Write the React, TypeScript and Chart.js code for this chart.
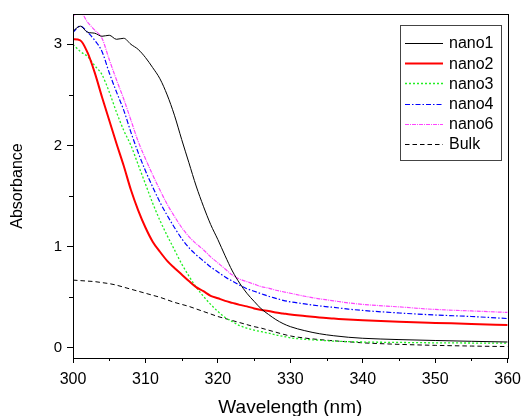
import React, { useEffect, useRef } from "react";
import { Chart, registerables } from "chart.js";

Chart.register(...registerables);

const wavelength = [
  300, 301, 302, 303, 304, 305, 306, 307, 308, 309, 310, 311, 312, 313, 314, 315, 316, 317, 318, 319,
  320, 321, 322, 323, 324, 325, 326, 327, 328, 329, 330, 332, 334, 336, 338, 340, 345, 350, 355, 360,
];

const nano1 = [
  3.13, 3.18, 3.12, 3.11, 3.08, 3.09, 3.05, 3.06, 3.0, 2.95, 2.87, 2.77, 2.66, 2.5, 2.3, 2.06, 1.83, 1.6, 1.4, 1.22,
  1.07, 0.91, 0.76, 0.64, 0.54, 0.46, 0.385, 0.33, 0.28, 0.24, 0.21, 0.17, 0.14, 0.12, 0.105, 0.095, 0.082, 0.073, 0.065, 0.058,
];
const nano2 = [
  3.05, 3.04, 2.92, 2.72, 2.48, 2.25, 2.02, 1.8, 1.56, 1.36, 1.19, 1.05, 0.95, 0.86, 0.79, 0.725, 0.66, 0.6, 0.56, 0.515,
  0.49, 0.465, 0.445, 0.425, 0.41, 0.39, 0.375, 0.365, 0.35, 0.34, 0.33, 0.315, 0.3, 0.29, 0.28, 0.272, 0.258, 0.247, 0.237, 0.225,
];
const nano3 = [
  3.0, 2.93, 2.88, 2.79, 2.7, 2.53, 2.33, 2.15, 2.0, 1.81, 1.62, 1.43, 1.26, 1.11, 0.97, 0.83, 0.71, 0.6, 0.51, 0.43,
  0.36, 0.3, 0.26, 0.22, 0.195, 0.175, 0.16, 0.145, 0.128, 0.115, 0.1, 0.085, 0.075, 0.067, 0.062, 0.058, 0.054, 0.05, 0.048, 0.046,
];
const nano4 = [
  3.12, 3.18, 3.12, 3.04, 2.93, 2.72, 2.53, 2.35, 2.13, 1.93, 1.75, 1.59, 1.44, 1.31, 1.19, 1.08, 0.99, 0.92, 0.86, 0.8,
  0.75, 0.7, 0.66, 0.62, 0.585, 0.56, 0.535, 0.51, 0.49, 0.47, 0.455, 0.435, 0.415, 0.4, 0.383, 0.37, 0.345, 0.325, 0.31, 0.29,
];
const nano6 = [
  3.28, 3.32, 3.22, 3.14, 3.06, 2.85, 2.65, 2.46, 2.25, 2.04, 1.87, 1.71, 1.56, 1.42, 1.3, 1.19, 1.1, 1.03, 0.97, 0.9,
  0.84, 0.78, 0.72, 0.68, 0.655, 0.63, 0.605, 0.59, 0.57, 0.555, 0.54, 0.51, 0.485, 0.465, 0.445, 0.43, 0.405, 0.38, 0.365, 0.35,
];
const bulk = [
  0.67, 0.665, 0.66, 0.655, 0.645, 0.635, 0.62, 0.6, 0.58, 0.56, 0.54, 0.52, 0.5, 0.475, 0.45, 0.43, 0.41, 0.385, 0.36, 0.335,
  0.31, 0.29, 0.27, 0.25, 0.23, 0.21, 0.195, 0.175, 0.155, 0.135, 0.118, 0.097, 0.082, 0.07, 0.06, 0.05, 0.035, 0.025, 0.018, 0.013,
];

const seriesNames = ["nano1", "nano2", "nano3", "nano4", "nano6", "Bulk"];
const seriesValues = [nano1, nano2, nano3, nano4, nano6, bulk];

const xMajorTicks = [300, 310, 320, 330, 340, 350, 360];
const xMinorTicks = [305, 315, 325, 335, 345, 355];
const yMajorTicks = [0, 1, 2, 3];
const yMinorTicks = [0.5, 1.5, 2.5];

const styles = [
  { color: "#000000", width: 1, dash: [] as number[] },
  { color: "#ff0000", width: 2, dash: [] as number[] },
  { color: "#22ee22", width: 1.3, dash: [2, 2] },
  { color: "#0000ff", width: 1.2, dash: [5, 2, 1.5, 2] },
  { color: "#ff44ff", width: 1.2, dash: [4, 1, 1, 1] },
  { color: "#000000", width: 1, dash: [4.5, 3] },
];

const FONT = "'Liberation Sans', Arial, Helvetica, sans-serif";

export default function App() {
  const ref = useRef<HTMLCanvasElement | null>(null);

  useEffect(() => {
    document.body.style.margin = "0";
    const canvas = ref.current;
    if (!canvas) return;

    const framePlugin = {
      id: "frameAndMinor",
      afterDraw(chart: any) {
        const { ctx, chartArea } = chart;
        const xs = chart.scales.x;
        const ys = chart.scales.y;
        ctx.save();
        ctx.strokeStyle = "#000";
        ctx.lineWidth = 1;
        ctx.setLineDash([]);
        ctx.strokeRect(
          Math.round(chartArea.left) + 0.5,
          Math.round(chartArea.top) + 0.5,
          Math.round(chartArea.right - chartArea.left),
          Math.round(chartArea.bottom - chartArea.top)
        );
        ctx.beginPath();
        for (const v of xMinorTicks) {
          const px = Math.round(xs.getPixelForValue(v)) + 0.5;
          ctx.moveTo(px, chartArea.bottom);
          ctx.lineTo(px, chartArea.bottom + 3);
        }
        for (const v of yMinorTicks) {
          const py = Math.round(ys.getPixelForValue(v)) + 0.5;
          ctx.moveTo(chartArea.left, py);
          ctx.lineTo(chartArea.left - 4, py);
        }
        ctx.stroke();

        // legend
        const lx = 400.5;
        const ly = 25.5;
        const lw = 101;
        const lh = 135;
        ctx.fillStyle = "#fff";
        ctx.fillRect(lx, ly, lw, lh);
        ctx.strokeStyle = "#444";
        ctx.strokeRect(lx, ly, lw, lh);
        ctx.font = `16px ${FONT}`;
        ctx.textBaseline = "middle";
        ctx.textAlign = "left";
        seriesNames.forEach((name, i) => {
          const y = 43 + i * 20.2;
          const st = styles[i];
          ctx.beginPath();
          ctx.strokeStyle = st.color;
          ctx.lineWidth = st.width;
          ctx.setLineDash(st.dash);
          ctx.moveTo(405, Math.round(y) + 0.5);
          ctx.lineTo(443, Math.round(y) + 0.5);
          ctx.stroke();
          ctx.setLineDash([]);
          ctx.fillStyle = "#000";
          ctx.fillText(name, 449, y + 1);
        });
        ctx.restore();
      },
    };

    const chart = new Chart(canvas, {
      type: "line",
      data: {
        datasets: seriesNames.map((name, i) => ({
          label: name,
          data: wavelength.map((w, j) => ({ x: w, y: seriesValues[i][j] })),
          borderColor: styles[i].color,
          borderWidth: styles[i].width,
          borderDash: styles[i].dash,
          pointRadius: 0,
          fill: false,
          cubicInterpolationMode: "monotone",
        })),
      },
      options: {
        animation: false,
        responsive: false,
        devicePixelRatio: 1,
        layout: { padding: { top: 12, right: 19, left: 0, bottom: 0 } },
        plugins: {
          legend: { display: false },
          tooltip: { enabled: false },
        },
        scales: {
          x: {
            type: "linear",
            min: 300,
            max: 360,
            afterFit(scale: any) {
              scale.height = 58;
            },
            afterBuildTicks(scale: any) {
              scale.ticks = xMajorTicks.map((v) => ({ value: v }));
            },
            grid: {
              drawOnChartArea: false,
              drawTicks: true,
              tickLength: 5,
              tickColor: "#000",
            },
            border: { display: true, color: "#000", width: 1 },
            ticks: {
              color: "#000",
              font: { family: FONT, size: 16 },
              padding: 7,
              maxRotation: 0,
              callback: (v: any) => String(v),
            },
            title: {
              display: true,
              text: "Wavelength (nm)",
              color: "#000",
              font: { family: FONT, size: 19, lineHeight: 0.9 },
              padding: { top: 0, bottom: 0 },
            },
          },
          y: {
            type: "linear",
            min: -0.1,
            max: 3.3,
            afterFit(scale: any) {
              scale.width = 73;
            },
            afterBuildTicks(scale: any) {
              scale.ticks = yMajorTicks.map((v) => ({ value: v }));
            },
            grid: {
              drawOnChartArea: false,
              drawTicks: true,
              tickLength: 6,
              tickColor: "#000",
            },
            border: { display: true, color: "#000", width: 1 },
            ticks: {
              color: "#000",
              font: { family: FONT, size: 15 },
              padding: 5,
              callback: (v: any) => String(v),
            },
            title: {
              display: true,
              text: "Absorbance",
              color: "#000",
              font: { family: FONT, size: 16, lineHeight: 1.2 },
              padding: { top: 8, bottom: 0 },
            },
          },
        },
      },
      plugins: [framePlugin],
    } as any);

    return () => chart.destroy();
  }, []);

  return (
    <div style={{ width: 528, height: 416, position: "relative" }}>
      <canvas ref={ref} width={528} height={416} style={{ display: "block", width: 528, height: 416 }} />
    </div>
  );
}
